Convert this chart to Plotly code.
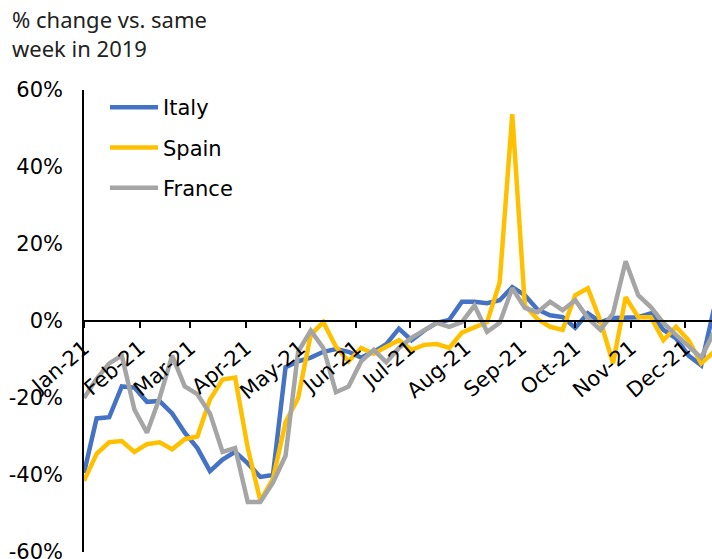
import plotly.graph_objects as go
import pandas as pd

dates = pd.date_range("2021-01-01", periods=51, freq="7D")

italy = [-39.5, -25.3, -25.0, -17.0, -17.3, -21.0, -20.8, -24.0, -29.0, -33.0,
         -39.0, -36.0, -34.0, -37.0, -40.5, -40.0, -12.0, -10.5, -9.5, -8.0,
         -7.3, -8.0, -9.5, -8.0, -6.0, -2.0, -5.0, -2.5, -0.5, 0.3,
         5.0, 5.0, 4.6, 5.4, 8.8, 6.7, 3.0, 1.5, 1.0, -1.8,
         2.0, -0.3, 0.8, 1.0, 1.0, 2.0, -2.3, -4.5, -9.0, -11.5,
         3.0]
spain = [-41.5, -34.5, -31.5, -31.2, -34.0, -32.0, -31.5, -33.3, -30.7, -30.0,
         -20.4, -15.2, -14.7, -33.0, -46.7, -41.0, -26.3, -20.0, -3.6, -0.3,
         -6.7, -10.5, -7.0, -8.5, -6.7, -5.0, -7.5, -6.2, -6.0, -7.0,
         -3.0, -1.8, -0.3, 10.0, 53.7, 4.0, 0.5, -1.5, -2.3, 6.7,
         8.5, 0.0, -11.0, 6.2, 1.0, 1.0, -5.0, -1.5, -5.0, -11.0,
         -8.0]
france = [-20.0, -15.0, -11.0, -9.0, -23.0, -29.0, -20.0, -9.0, -17.0, -19.0,
          -24.0, -34.0, -33.0, -47.0, -47.0, -42.0, -35.0, -8.0, -2.5, -7.0,
          -18.5, -17.0, -10.5, -7.5, -10.7, -7.0, -4.4, -2.5, -0.5, -1.5,
          -0.3, 4.0, -2.8, -0.5, 8.5, 3.4, 2.3, 5.0, 2.8, 5.4,
          0.8, -2.3, 2.0, 15.5, 6.7, 3.6, -0.5, -3.6, -6.5, -9.5,
          -3.0]

series = [("Italy", italy, "#4472C4"), ("Spain", spain, "#FFC000"), ("France", france, "#A5A5A5")]

y_ticks = [-60, -40, -20, 0, 20, 40, 60]
y_labels = ["-60%", "-40%", "-20%", "0%", "20%", "40%", "60%"]

fig = go.Figure()
for name, vals, col in series:
    fig.add_trace(go.Scatter(x=dates, y=vals, name=name, mode="lines",
                             line=dict(color=col, width=4.5), legendgroup=name))

W, H = 712, 559
ml, mr, mt, mb = 84, 0, 90, 7
pw, ph = W - ml - mr, H - mt - mb

tick_font = dict(family="DejaVu Sans, sans-serif", size=21, color="black")

fig.update_layout(
    width=W, height=H,
    margin=dict(l=ml, r=mr, t=mt, b=mb, pad=0, autoexpand=False),
    paper_bgcolor="white", plot_bgcolor="white",
    font=tick_font,
    showlegend=True,
    legend=dict(x=(105 - ml) / pw, y=1 + 3 / ph, xanchor="left", yanchor="top",
                font=tick_font, tracegroupgap=10, itemwidth=48,
                bgcolor="rgba(0,0,0,0)"),
    xaxis=dict(
        type="date", range=["2021-01-01", "2021-12-16"],
        anchor="free", position=0.5, automargin=False,
        showline=True, linecolor="black", linewidth=1.5,
        ticks="outside", ticklen=6, tickwidth=1.5, tickcolor="black",
        tick0="2021-01-01", dtick="M1", tickformat="%b-%y",
        tickangle=-40, showgrid=False, zeroline=False,
        tickfont=tick_font, ticklabeloverflow="allow",
    ),
    yaxis=dict(
        range=[-60, 60], tickvals=y_ticks, ticktext=y_labels, automargin=False,
        showline=True, linecolor="black", linewidth=1.5,
        ticks="", showgrid=False, zeroline=False,
        ticklabelstandoff=15, tickfont=tick_font, ticklabeloverflow="allow",
    ),
)

fig.add_annotation(
    text="% change vs. same<br>week in 2019",
    xref="paper", yref="paper",
    x=(10 - ml) / pw, y=1 + (mt - 33.5) / ph,
    xanchor="left", yanchor="middle", align="left", showarrow=False,
    font=dict(family="Noto Sans, Open Sans, sans-serif", size=22, color="#222"),
)

fig.write_html(
    "out.html",
    config={"displayModeBar": False},
    post_script="document.body.style.margin='0';document.body.style.overflow='hidden';",
)
